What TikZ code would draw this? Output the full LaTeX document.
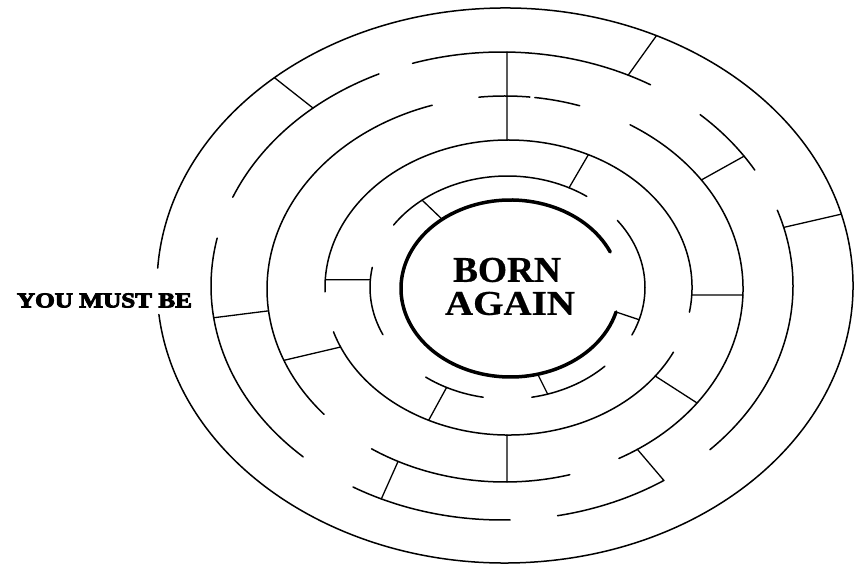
\documentclass[tikz,border=0pt]{standalone}
\usepackage{fontspec}
\setmainfont{Liberation Serif}
\newfontfamily\heavyfont{Liberation Serif}[UprightFeatures={FakeBold=4}, BoldFeatures={FakeBold=4}]
\newfontfamily\coreplain{Liberation Serif}[BoldFeatures={FakeBold=0.6}]
\usepackage{graphicx}
\newcommand{\mzarc}[5]{\draw[mzline] ([shift={(#1)}] #4:#2 and #3) arc[start angle=#4, end angle=#5, x radius=#2, y radius=#3];}
\begin{document}
\begin{tikzpicture}[x=1pt,y=1pt,
  mzline/.style={line width=1.5pt, line cap=round, black},
  mzcore/.style={line width=3.5pt, line cap=round, black},
  mzwall/.style={line width=1.3pt, line cap=round, black}]
\fill[white] (0,0) rectangle (861,564);
\useasboundingbox (0,0) rectangle (861,564);
% centres of the rings
\coordinate (c1) at (505,278.5);
\coordinate (c2) at (502,278);
\coordinate (c3) at (505,275);
\coordinate (c4) at (508.5,276.5);
\coordinate (c5) at (507.5,276.5);
\coordinate (c0) at (510.5,275.5);
% ring 1 (outer)
\mzarc{c1}{348pt}{277.5pt}{186}{536.4}
% ring 2
\mzarc{c2}{291pt}{234pt}{59.3}{107.9}
\mzarc{c2}{291pt}{234pt}{29.7}{47.1}
\mzarc{c2}{291pt}{234pt}{-44.4}{18.9}
\mzarc{c2}{291pt}{234pt}{-79}{-56.2}
\mzarc{c2}{291pt}{234pt}{239.2}{271.6}
\mzarc{c2}{291pt}{234pt}{168.2}{226.9}
\mzarc{c2}{291pt}{234pt}{115}{157.7}
% ring 3
\mzarc{c3}{238pt}{193pt}{107.8}{220.5}
\mzarc{c3}{238pt}{193pt}{84}{96.3}
\mzarc{c3}{238pt}{193pt}{71.7}{82.8}
\mzarc{c3}{238pt}{193pt}{-61.4}{58.3}
\mzarc{c3}{238pt}{193pt}{235.9}{285.8}
% ring 4
\mzarc{c4}{183.5pt}{147.5pt}{-9.6}{181.7}
\mzarc{c4}{183.5pt}{147.5pt}{197.5}{334}
% ring 5
\mzarc{c5}{137.5pt}{111.5pt}{54.8}{145.9}
\mzarc{c5}{137.5pt}{111.5pt}{-25.2}{37}
\mzarc{c5}{137.5pt}{111.5pt}{-79.8}{-44.9}
\mzarc{c5}{137.5pt}{111.5pt}{233.5}{259.8}
\mzarc{c5}{137.5pt}{111.5pt}{169.6}{205}
% core
\draw[mzcore] ([shift={(c0)}] 24.4:109.5pt and 88.5pt) arc[start angle=24.4, end angle=344.6, x radius=109.5pt, y radius=88.5pt];
% radial walls
\draw[mzwall] ([shift={(c1)}]131.5:348pt and 277.5pt) -- ([shift={(c2)}]130.5:291pt and 234pt);
\draw[mzwall] ([shift={(c1)}]64.2:348pt and 277.5pt) -- ([shift={(c2)}]64.3:291pt and 234pt);
\draw[mzwall] ([shift={(c1)}]14.9:348pt and 277.5pt) -- ([shift={(c2)}]14.5:291pt and 234pt);
\draw[mzwall] ([shift={(c2)}]33.7:291pt and 234pt) -- ([shift={(c3)}]34.4:238pt and 193pt);
\draw[mzwall] ([shift={(c2)}]89:291pt and 234pt) -- ([shift={(c4)}]90.5:183.5pt and 147.5pt);
\draw[mzwall] ([shift={(c4)}]64.2:183.5pt and 147.5pt) -- ([shift={(c5)}]63.4:137.5pt and 111.5pt);
\draw[mzwall] ([shift={(c5)}]128.4:137.5pt and 111.5pt) -- ([shift={(c0)}]128.6:109.5pt and 88.5pt);
\draw[mzwall] ([shift={(c4)}]177:183.5pt and 147.5pt) -- ([shift={(c5)}]176:137.5pt and 111.5pt);
\draw[mzwall] ([shift={(c2)}]187.8:291pt and 234pt) -- ([shift={(c3)}]186.5:238pt and 193pt);
\draw[mzwall] ([shift={(c3)}]201.7:238pt and 193pt) -- ([shift={(c4)}]203.8:183.5pt and 147.5pt);
\draw[mzwall] ([shift={(c3)}]243.3:238pt and 193pt) -- ([shift={(c2)}]245.5:291pt and 234pt);
\draw[mzwall] ([shift={(c5)}]243.7:137.5pt and 111.5pt) -- ([shift={(c4)}]244.2:183.5pt and 147.5pt);
\draw[mzwall] ([shift={(c4)}]269.5:183.5pt and 147.5pt) -- ([shift={(c3)}]270.5:238pt and 193pt);
\draw[mzwall] ([shift={(c5)}]-73:137.5pt and 111.5pt) -- ([shift={(c0)}]-75.6:109.5pt and 88.5pt);
\draw[mzwall] ([shift={(c4)}]-36.9:183.5pt and 147.5pt) -- ([shift={(c3)}]-36.2:238pt and 193pt);
\draw[mzwall] ([shift={(c3)}]-56.2:238pt and 193pt) -- ([shift={(c2)}]-56.2:291pt and 234pt);
\draw[mzwall] ([shift={(c4)}]-2.9:183.5pt and 147.5pt) -- ([shift={(c3)}]-1.8:238pt and 193pt);
\draw[mzwall] ([shift={(c0)}]-15.4:109.5pt and 88.5pt) -- ([shift={(c5)}]-16.8:137.5pt and 111.5pt);
% texts
\node[inner sep=0] (born) at (507,294) {\resizebox{108pt}{24pt}{\coreplain\bfseries BORN}};
\node[inner sep=0] (again) at (510,260.5) {\resizebox{130pt}{23pt}{\coreplain\bfseries AGAIN}};
\node[inner sep=0] (must) at (104.5,263.5) {\resizebox{175pt}{14pt}{\heavyfont\bfseries YOU MUST BE}};
\end{tikzpicture}
\end{document}
